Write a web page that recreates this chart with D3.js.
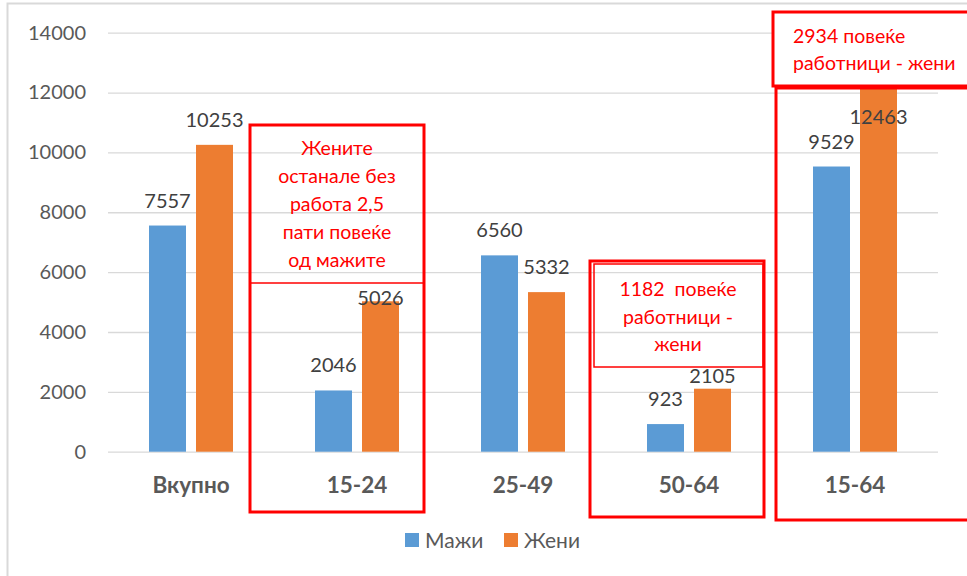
<!DOCTYPE html>
<html>
<head>
<meta charset="utf-8">
<script src="https://cdn.jsdelivr.net/npm/d3@7"></script>
<style>
  body { margin: 0; background: #fff; }
  svg text { font-family: Lato, "Noto Sans", sans-serif; }
</style>
</head>
<body>
<svg id="chart" width="967" height="576"></svg>
<script>
// DATA
var categories = ["Вкупно", "15-24", "25-49", "50-64", "15-64"];
var series = ["Мажи", "Жени"];
var men = [7557, 2046, 6560, 923, 9529];
var women = [10253, 5026, 5332, 2105, 12463];
var yTicks = [0, 2000, 4000, 6000, 8000, 10000, 12000, 14000];
var colors = ["#5B9BD5", "#ED7D31"];

// annotation texts
var note1 = ["Жените", "останале без", "работа 2,5", "пати повеќе", "од мажите"];
var note2 = ["1182  повеќе", "работници -", "жени"];
var note3 = ["2934 повеќе", "работници - жени"];

var svg = d3.select("#chart");

// chart frame
svg.append("path")
    .attr("d", "M7.5,576 V3.5 H967")
    .attr("fill", "none")
    .attr("stroke", "#D9D9D9")
    .attr("stroke-width", 2);

var x0 = d3.scaleBand()
    .domain(categories)
    .range([108, 938])
    .paddingInner(0.494)
    .paddingOuter(0.247);

var x1 = d3.scaleBand()
    .domain(series)
    .range([0, x0.bandwidth()])
    .paddingInner(0.213);

var y = d3.scaleLinear()
    .domain([0, 14000])
    .range([451.7, 32.7]);

// GRIDLINES + Y LABELS
var yAxis = d3.axisLeft(y)
    .tickValues(yTicks)
    .tickSize(-(938 - 108))
    .tickPadding(22)
    .tickFormat(d3.format("d"));

var gy = svg.append("g")
    .attr("transform", "translate(108,0)")
    .call(yAxis);
gy.select(".domain").remove();
gy.selectAll(".tick line").attr("stroke", "#D9D9D9").attr("stroke-width", 1.3);
gy.selectAll(".tick text")
    .attr("fill", "#595959")
    .style("font-size", "20px");

// BARS
var rows = categories.map(function (c, i) {
    return { cat: c, vals: [men[i], women[i]] };
});

var groups = svg.selectAll(".grp")
    .data(rows)
    .enter().append("g")
    .attr("class", "grp")
    .attr("transform", function (d) { return "translate(" + x0(d.cat) + ",0)"; });

function cells(d) {
    return d.vals.map(function (v, j) { return { cat: d.cat, s: series[j], v: v, j: j }; });
}

groups.selectAll("rect")
    .data(cells)
    .enter().append("rect")
    .attr("x", function (d) { return x1(d.s); })
    .attr("y", function (d) { return y(d.v); })
    .attr("width", x1.bandwidth())
    .attr("height", function (d) { return y(0) - y(d.v); })
    .attr("fill", function (d) { return colors[d.j]; });

// CATEGORY LABELS
var xAxis = d3.axisBottom(x0).tickSize(0).tickPadding(25);
var gx = svg.append("g")
    .attr("transform", "translate(0," + y(0) + ")")
    .call(xAxis);
gx.select(".domain").remove();
gx.selectAll(".tick text")
    .attr("fill", "#595959")
    .style("font-size", "22.5px")
    .style("font-weight", "bold");

// RED ANNOTATION BOXES
function redBox(x, yy, w, h, sw) {
    svg.append("rect")
        .attr("x", x).attr("y", yy)
        .attr("width", w).attr("height", h)
        .attr("fill", "none")
        .attr("stroke", "#FF0000")
        .attr("stroke-width", sw);
}

function noteText(lines, x, yy, gap, anchor) {
    var t = svg.append("text")
        .attr("fill", "#FF0000")
        .attr("text-anchor", anchor)
        .style("font-size", "19.5px")
        .style("white-space", "pre");
    lines.forEach(function (l, i) {
        t.append("tspan").attr("x", x).attr("y", yy + i * gap).text(l);
    });
}

// 15-24
redBox(250, 125, 174, 387, 3);
svg.append("line")
    .attr("x1", 250).attr("x2", 424)
    .attr("y1", 283).attr("y2", 283)
    .attr("stroke", "#FF0000").attr("stroke-width", 1.3);
noteText(note1, 337, 155, 28, "middle");

// 50-64
redBox(590, 261, 174, 256, 3);
redBox(594, 264, 169, 103, 1.5);
noteText(note2, 678, 296, 27.5, "middle");

// 15-64
redBox(776, 88, 200, 432, 3);
svg.append("rect")
    .attr("x", 773).attr("y", 12)
    .attr("width", 200).attr("height", 74)
    .attr("fill", "#fff")
    .attr("stroke", "#FF0000")
    .attr("stroke-width", 3);
noteText(note3, 793, 43, 27, "start");

// DATA LABELS (drawn last, on top); a few were dragged by hand in the original
var nudge = { "15-24|Жени": 22, "50-64|Жени": 12, "15-64|Жени": 63 };
groups.selectAll(".lbl")
    .data(cells)
    .enter().append("text")
    .attr("class", "lbl")
    .attr("x", function (d) { return x1(d.s) + x1.bandwidth() / 2; })
    .attr("y", function (d) { return y(d.v) - 18 + (nudge[d.cat + "|" + d.s] || 0); })
    .attr("text-anchor", "middle")
    .attr("fill", "#404040")
    .style("font-size", "20px")
    .text(function (d) { return d.v; });

// LEGEND
var legend = svg.append("g").attr("transform", "translate(405,533)");
var lx = [0, 99];
series.forEach(function (s, i) {
    legend.append("rect")
        .attr("x", lx[i]).attr("y", 0)
        .attr("width", 14).attr("height", 14)
        .attr("fill", colors[i]);
    legend.append("text")
        .attr("x", lx[i] + 20).attr("y", 14.5)
        .attr("fill", "#595959")
        .style("font-size", "21px")
        .text(s);
});
</script>
</body>
</html>
